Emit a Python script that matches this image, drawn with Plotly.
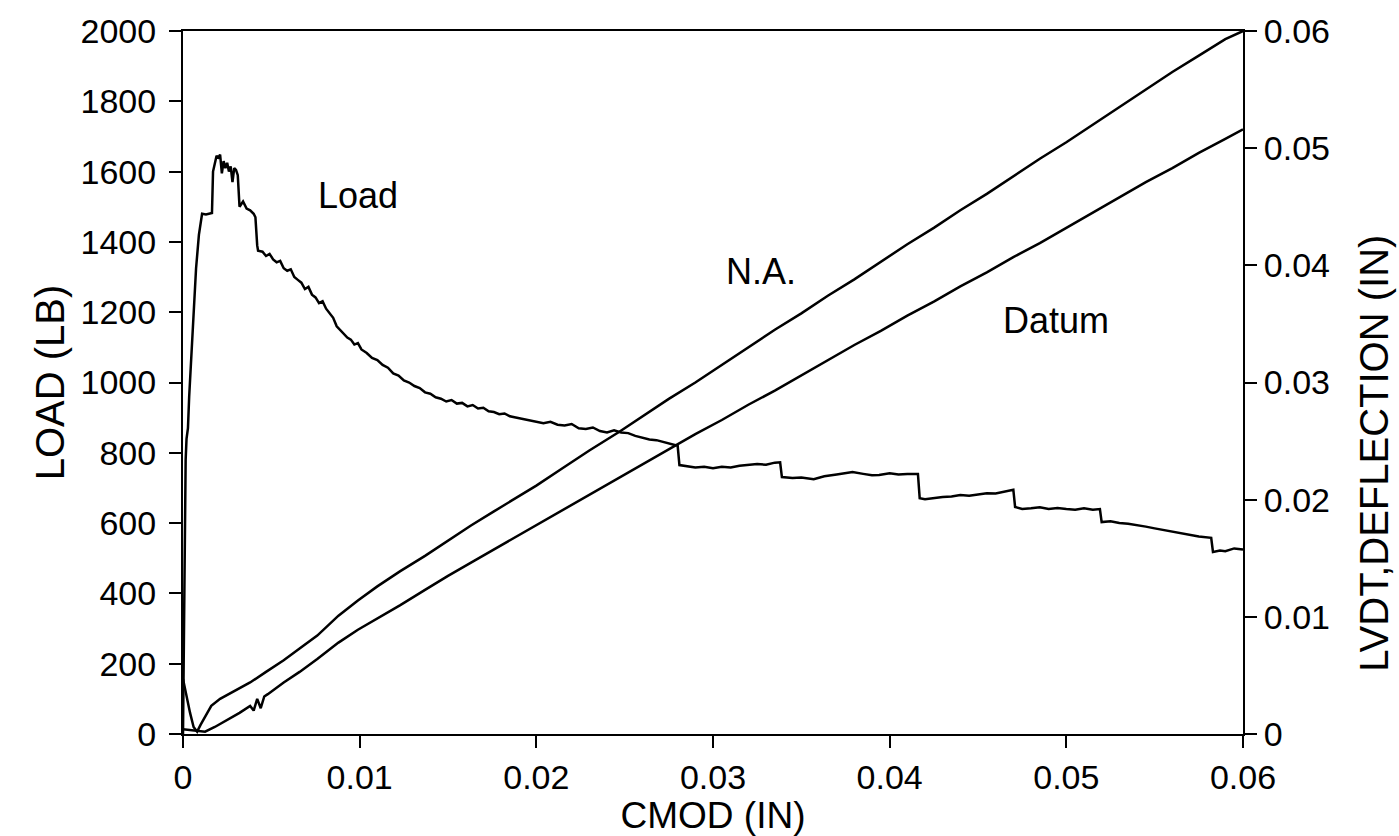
import plotly.graph_objects as go

# ---------------- data ----------------
load_points = [
    (0, 0), (0.00005, 350), (0.0001, 640), (0.00015, 780), (0.0002, 840),
    (0.00028, 870), (0.00035, 960), (0.00045, 1050), (0.00055, 1130),
    (0.00065, 1240), (0.00074, 1325), (0.0009, 1420), (0.00108, 1480),
    (0.0013, 1478), (0.00164, 1482), (0.0017, 1600), (0.0018, 1625),
    (0.0019, 1645), (0.002, 1640), (0.0021, 1648), (0.0022, 1595),
    (0.0023, 1630), (0.0024, 1610), (0.0025, 1625), (0.0026, 1600),
    (0.0027, 1615), (0.0028, 1570), (0.0029, 1610), (0.003, 1605),
    (0.0031, 1590), (0.0032, 1500), (0.0034, 1515), (0.0036, 1495),
    (0.0038, 1490), (0.004, 1480), (0.0041, 1470), (0.0042, 1390),
    (0.00425, 1375), (0.0045, 1372), (0.0047, 1360), (0.0049, 1366),
    (0.0051, 1350), (0.0053, 1342), (0.0055, 1346), (0.0057, 1325),
    (0.0059, 1318), (0.0061, 1322), (0.0063, 1300), (0.0065, 1292),
    (0.0067, 1284), (0.0069, 1266), (0.0071, 1272), (0.0073, 1250),
    (0.0075, 1242), (0.0077, 1226), (0.0079, 1231), (0.0081, 1210),
    (0.0083, 1196), (0.0085, 1184), (0.0087, 1160), (0.0089, 1150),
    (0.0091, 1140), (0.0093, 1128), (0.0095, 1122), (0.0097, 1108),
    (0.0099, 1112), (0.0101, 1094), (0.0104, 1084), (0.0107, 1070),
    (0.011, 1064), (0.0113, 1050), (0.0116, 1042), (0.0119, 1026),
    (0.0122, 1020), (0.0125, 1006), (0.0128, 1000), (0.0131, 990),
    (0.0134, 984), (0.0137, 972), (0.014, 968), (0.0143, 958),
    (0.0146, 954), (0.0149, 946), (0.0152, 950), (0.0155, 940),
    (0.0158, 942), (0.0161, 932), (0.0164, 936), (0.0167, 926),
    (0.017, 928), (0.0173, 918), (0.0176, 916), (0.0179, 910),
    (0.0182, 912), (0.0185, 904), (0.0189, 900), (0.0193, 896),
    (0.0197, 892), (0.02, 890), (0.0204, 884), (0.0208, 888),
    (0.0212, 880), (0.0216, 878), (0.022, 882), (0.0224, 870),
    (0.0228, 868), (0.0232, 872), (0.0236, 862), (0.024, 858),
    (0.0244, 864), (0.0248, 858), (0.0252, 856), (0.0256, 848),
    (0.026, 842), (0.0264, 838), (0.0268, 836), (0.0272, 830),
    (0.0276, 826), (0.028, 820), (0.0281, 765), (0.0285, 762),
    (0.029, 758), (0.0295, 760), (0.03, 756), (0.0305, 760),
    (0.031, 758), (0.0315, 763), (0.032, 765), (0.0325, 768),
    (0.033, 766), (0.0335, 772), (0.0338, 773), (0.0339, 731),
    (0.0345, 728), (0.035, 730), (0.0357, 725), (0.0363, 733),
    (0.037, 738), (0.0375, 742), (0.0379, 745), (0.0385, 740),
    (0.039, 736), (0.0394, 737), (0.04, 742), (0.0405, 738),
    (0.041, 740), (0.0416, 740), (0.0417, 671), (0.042, 668),
    (0.0425, 672), (0.043, 674), (0.0435, 676), (0.044, 680),
    (0.0445, 678), (0.045, 682), (0.0455, 685), (0.046, 684),
    (0.0465, 690), (0.047, 695), (0.0471, 646), (0.0475, 640),
    (0.048, 642), (0.0485, 645), (0.049, 640), (0.0495, 643),
    (0.05, 640), (0.0505, 638), (0.051, 642), (0.0515, 638),
    (0.0519, 640), (0.052, 603), (0.0525, 605), (0.053, 600),
    (0.0535, 598), (0.054, 595), (0.0545, 590), (0.055, 585),
    (0.0555, 580), (0.056, 576), (0.0565, 570), (0.057, 565),
    (0.0575, 562), (0.0582, 558), (0.0583, 518), (0.0587, 522),
    (0.059, 520), (0.0595, 528), (0.06, 525),
]

na_points = [
    (0, 0.0047), (0.0002, 0.0032), (0.0004, 0.0018), (0.0006, 0.0006),
    (0.0008, 0.0002), (0.001, 0.0008), (0.00125, 0.0015), (0.0016, 0.0024),
    (0.0021, 0.003), (0.0028, 0.0036), (0.0038, 0.0044), (0.0047, 0.0053),
    (0.0057, 0.0063), (0.0066, 0.0073), (0.0076, 0.0084), (0.0088, 0.0101),
    (0.0099, 0.0114), (0.011, 0.0126), (0.0123, 0.0139), (0.0137, 0.0152),
    (0.015, 0.0165), (0.0163, 0.0178), (0.0176, 0.0190), (0.019, 0.0203),
    (0.02, 0.0212), (0.0215, 0.0227), (0.023, 0.0242), (0.0247, 0.0258),
    (0.026, 0.0271), (0.0275, 0.0286), (0.029, 0.0300), (0.0305, 0.0315),
    (0.032, 0.0330), (0.0335, 0.0345), (0.035, 0.0359), (0.0365, 0.0374),
    (0.038, 0.0388), (0.0395, 0.0403), (0.041, 0.0418), (0.0425, 0.0432),
    (0.044, 0.0447), (0.0455, 0.0461), (0.047, 0.0476), (0.0485, 0.0491),
    (0.05, 0.0505), (0.0515, 0.0520), (0.053, 0.0535), (0.0545, 0.0550),
    (0.056, 0.0565), (0.0575, 0.0579), (0.059, 0.0593), (0.06, 0.0600),
]

datum_points = [
    (0, 0.0004), (0.0006, 0.0003), (0.00125, 0.0002), (0.0018, 0.0006),
    (0.0025, 0.0012), (0.0032, 0.0018), (0.0038, 0.0024), (0.0040, 0.0020),
    (0.0042, 0.0030), (0.0044, 0.0022), (0.0046, 0.0032), (0.0048, 0.0034),
    (0.0057, 0.0044), (0.0066, 0.0053), (0.0076, 0.0064), (0.0088, 0.0078),
    (0.0099, 0.0089), (0.0112, 0.0100), (0.0123, 0.0110), (0.0137, 0.0123),
    (0.015, 0.0135), (0.0165, 0.0148), (0.018, 0.0161), (0.02, 0.0178),
    (0.0215, 0.0191), (0.023, 0.0204), (0.0245, 0.0217), (0.026, 0.0230),
    (0.0277, 0.0245), (0.029, 0.0256), (0.0305, 0.0268), (0.032, 0.0281),
    (0.0335, 0.0293), (0.035, 0.0306), (0.0365, 0.0319), (0.038, 0.0332),
    (0.0395, 0.0344), (0.041, 0.0357), (0.0425, 0.0369), (0.044, 0.0382),
    (0.0455, 0.0394), (0.047, 0.0407), (0.0485, 0.0419), (0.05, 0.0432),
    (0.0515, 0.0445), (0.053, 0.0458), (0.0545, 0.0471), (0.056, 0.0483),
    (0.0575, 0.0496), (0.059, 0.0508), (0.06, 0.0516),
]

x_ticks = [0, 0.01, 0.02, 0.03, 0.04, 0.05, 0.06]
x_tick_labels = ["0", "0.01", "0.02", "0.03", "0.04", "0.05", "0.06"]
load_ticks = list(range(0, 2001, 200))
defl_ticks = [0, 0.01, 0.02, 0.03, 0.04, 0.05, 0.06]
defl_tick_labels = ["0", "0.01", "0.02", "0.03", "0.04", "0.05", "0.06"]

labels = [("Load", 0.0099, 1533), ("N.A.", 0.0327, 1317), ("Datum", 0.0494, 1176)]
right_title = "LVDT,DEFLECTION (IN)"

# ---------------- figure ----------------
FONT = "Liberation Sans, Arial, Helvetica, sans-serif"
line_style = dict(color="black", width=2.5)

fig = go.Figure()
fig.add_trace(go.Scatter(x=[p[0] for p in load_points], y=[p[1] for p in load_points],
                         mode="lines", line=line_style, yaxis="y", name="Load"))
fig.add_trace(go.Scatter(x=[p[0] for p in na_points], y=[p[1] for p in na_points],
                         mode="lines", line=line_style, yaxis="y2", name="N.A."))
fig.add_trace(go.Scatter(x=[p[0] for p in datum_points], y=[p[1] for p in datum_points],
                         mode="lines", line=line_style, yaxis="y2", name="Datum"))

axis_common = dict(showline=True, linecolor="black", linewidth=2, ticks="outside",
                   ticklen=12, tickwidth=2, tickcolor="black", showgrid=False,
                   zeroline=False, tickfont=dict(family=FONT, size=34, color="black"))

fig.update_layout(
    width=1399, height=836,
    margin=dict(l=183, r=156, t=26, b=101),
    paper_bgcolor="white", plot_bgcolor="white",
    showlegend=False,
    font=dict(family=FONT, color="black"),
    xaxis=dict(range=[0, 0.06], tickvals=x_ticks, ticktext=x_tick_labels, mirror=True,
               title=dict(text="CMOD (IN)", font=dict(family=FONT, size=37), standoff=2),
               **axis_common),
    yaxis=dict(range=[0, 2000], tickvals=load_ticks, ticklabelstandoff=6,
               title=dict(text="LOAD (LB)", font=dict(family=FONT, size=40), standoff=4),
               **axis_common),
    yaxis2=dict(range=[0, 0.06], tickvals=defl_ticks, ticktext=defl_tick_labels,
                overlaying="y", side="right",
                **axis_common),
)

for text, x, y in labels:
    fig.add_annotation(x=x, y=y, xref="x", yref="y", text=text, showarrow=False,
                       font=dict(family=FONT, size=36, color="black"))

# right-hand axis title (sits lower than the axis centre in the reference)
fig.add_annotation(x=1.1235, y=0.40, xref="paper", yref="paper", text=right_title,
                   textangle=-90, showarrow=False, xanchor="center", yanchor="middle",
                   font=dict(family=FONT, size=40, color="black"))

fig.write_html("out.html")
